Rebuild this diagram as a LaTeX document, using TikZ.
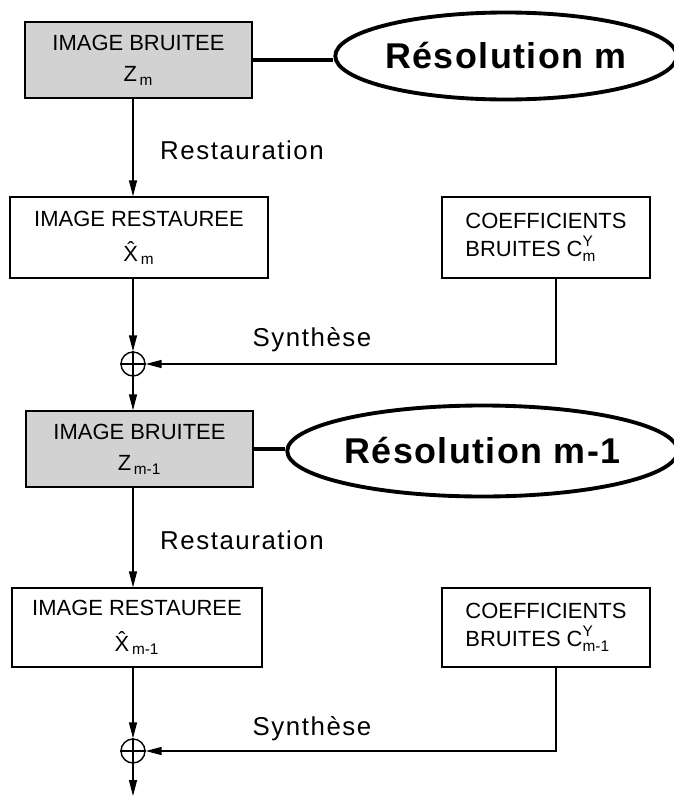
\documentclass[tikz,border=0pt]{standalone}
\usepackage{amsmath}
\usepackage{fontspec}
\setmainfont{Liberation Sans}
\usetikzlibrary{arrows.meta,shapes.geometric}

\begin{document}
\begin{tikzpicture}[
		>={Triangle[length=9pt,width=4.5pt]},
		bloc/.style={draw, line width=0.8pt, inner sep=2pt, align=center, font=\fontsize{12.5}{16}\selectfont},
		bruite/.style={bloc, fill=gray!35},
		reso/.style={ellipse, draw, line width=2.2pt, inner sep=0pt, font=\fontsize{20.4}{24}\selectfont\bfseries\addfontfeature{LetterSpace=4}},
		etape/.style={font=\fontsize{14.7}{18}\selectfont\addfontfeature{LetterSpace=6}},
		somme/.style={circle, draw, line width=0.8pt, minimum size=0.48cm, inner sep=0pt},
		fil/.style={line width=0.8pt}
	]
		\useasboundingbox (0, 0) rectangle (13.48, -15.96);
		
		% resolution m
		\node[bruite, minimum width=4.54cm, minimum height=1.52cm] (bruit1) at (2.77, -1.20) {IMAGE BRUITEE\\[2pt] $\text{Z}_{\,\text{m}}$};
		\node[reso, minimum width=6.56cm, minimum height=1.74cm] (res1) at (10.12, -1.12) {Résolution m};
		\node[bloc, minimum width=5.16cm, minimum height=1.62cm] (rest1) at (2.78, -4.75) {IMAGE RESTAUREE\\[4pt] $\text{X̂}_{\,\text{m}}$};
		\node[bloc, align=left, minimum width=4.16cm, minimum height=1.62cm] (coef1) at (10.92, -4.75) {COEFFICIENTS\\ BRUITES $\text{C}^{\text{Y}}_{\text{m}}$};
		\node[somme] (plus1) at (2.66, -7.28) {};
		\node[etape] (restau1) at (4.84, -3.00) {Restauration};
		\node[etape] (synth1) at (6.24, -6.80) {Synthèse};
		
		% resolution m-1
		\node[bruite, minimum width=4.54cm, minimum height=1.52cm] (bruit2) at (2.79, -8.98) {IMAGE BRUITEE\\[2pt] $\text{Z}_{\,\text{m-1}}$};
		\node[reso, minimum width=7.18cm, minimum height=1.82cm] (res2) at (9.65, -9.02) {Résolution m-1};
		\node[bloc, minimum width=5.00cm, minimum height=1.58cm] (rest2) at (2.74, -12.55) {IMAGE RESTAUREE\\[4pt] $\text{X̂}_{\,\text{m-1}}$};
		\node[bloc, align=left, minimum width=4.16cm, minimum height=1.58cm] (coef2) at (10.92, -12.55) {COEFFICIENTS\\ BRUITES $\text{C}^{\text{Y}}_{\text{m-1}}$};
		\node[somme] (plus2) at (2.66, -15.02) {};
		\node[etape] (restau2) at (4.84, -10.80) {Restauration};
		\node[etape] (synth2) at (6.24, -14.58) {Synthèse};
		\coordinate (sortie) at (2.66, -15.92);
		
		\draw[line width=2.2pt] (bruit1.east) -- (bruit1.east -| res1.west);
		\draw[line width=2.2pt] (bruit2.east) -- (bruit2.east -| res2.west);
		
		\draw[fil] (plus1.north) -- (plus1.south) (plus1.west) -- (plus1.east);
		\draw[fil] (plus2.north) -- (plus2.south) (plus2.west) -- (plus2.east);
		
		\draw[fil, ->] (bruit1.south -| plus1) -- (rest1.north -| plus1);
		\draw[fil, ->] (rest1.south -| plus1) -- (plus1);
		\draw[fil, ->] ([xshift=0.2cm]coef1.south) |- (plus1);
		\draw[fil, ->] (plus1) -- (bruit2.north -| plus1);
		
		\draw[fil, ->] (bruit2.south -| plus2) -- (rest2.north -| plus2);
		\draw[fil, ->] (rest2.south -| plus2) -- (plus2);
		\draw[fil, ->] ([xshift=0.2cm]coef2.south) |- (plus2);
		\draw[fil, ->] (plus2) -- (sortie);
	\end{tikzpicture}
\end{document}
